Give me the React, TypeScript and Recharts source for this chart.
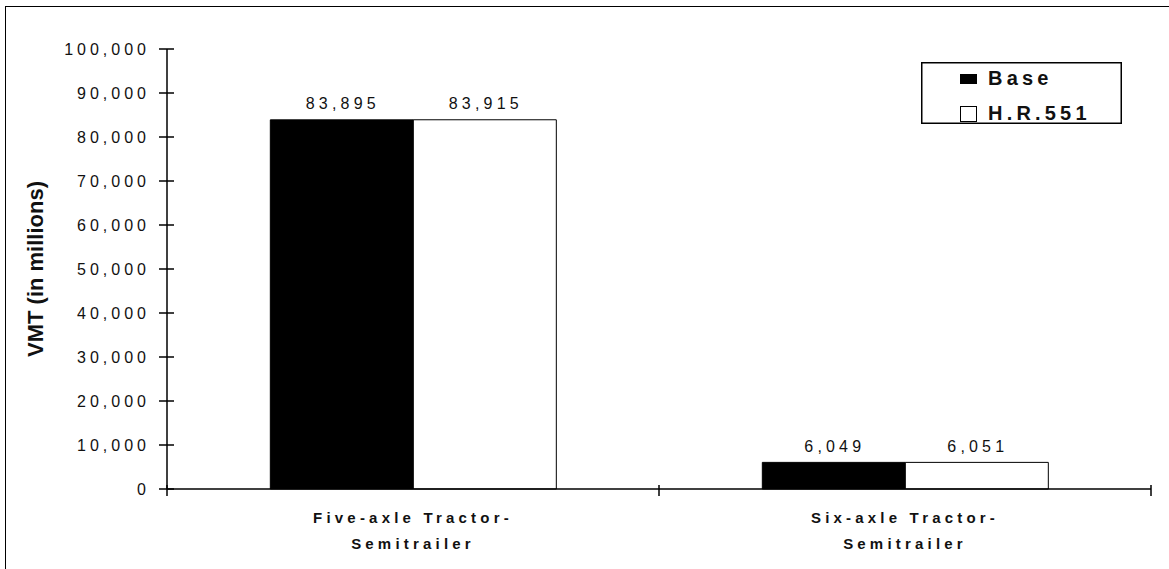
import React from "react";
import { BarChart, Bar, XAxis, YAxis, LabelList, Legend } from "recharts";

// Vehicle miles travelled by combination-truck configuration
const categories = ["Five-axle Tractor-\nSemitrailer", "Six-axle Tractor-\nSemitrailer"];
const baseValues = [83895, 6049];
const hr551Values = [83915, 6051];
const seriesNames = ["Base", "H.R.551"];
const yTicks = [0, 10000, 20000, 30000, 40000, 50000, 60000, 70000, 80000, 90000, 100000];
const yAxisTitle = "VMT (in millions)";

const data = categories.map((name, i) => ({
  name,
  base: baseValues[i],
  hr551: hr551Values[i],
}));

const FONT = '"Liberation Sans", Arial, Helvetica, sans-serif';
const INK = "#111";
const fmt = (v: number) => Number(v).toLocaleString("en-US");

function YTick(props: any) {
  const { x, y, payload } = props;
  return (
    <g>
      <line x1={x - 8} x2={x + 7} y1={y} y2={y} stroke="#000" strokeWidth={1.5} />
      <text
        x={x - 17}
        y={y}
        textAnchor="end"
        dominantBaseline="central"
        fontFamily={FONT}
        fontSize={16}
        letterSpacing={4}
        fill={INK}
      >
        {fmt(payload.value)}
      </text>
    </g>
  );
}

function XTick(props: any) {
  const { x, y, payload, index, visibleTicksCount, width } = props;
  const lines = String(payload.value).split("\n");
  const half = Number(width) / Number(visibleTicksCount) / 2;
  const showEdges = Number.isFinite(half);
  return (
    <g>
      {showEdges && (
        <line x1={x - half} x2={x - half} y1={y - 4} y2={y + 7} stroke="#000" strokeWidth={1.5} />
      )}
      {showEdges && index === visibleTicksCount - 1 && (
        <line x1={x + half} x2={x + half} y1={y - 4} y2={y + 7} stroke="#000" strokeWidth={1.5} />
      )}
      <text
        textAnchor="middle"
        fontFamily={FONT}
        fontSize={15}
        fontWeight="bold"
        letterSpacing={4.2}
        fill={INK}
      >
        {lines.map((line, i) => (
          <tspan key={i} x={x} y={y + 28 + i * 26} dominantBaseline="central">
            {line}
          </tspan>
        ))}
      </text>
    </g>
  );
}

function YTitle(props: any) {
  const vb = props.viewBox || {};
  const cx = (vb.x || 0) + 35;
  const cy = (vb.y || 0) + (vb.height || 0) / 2;
  return (
    <text
      x={cx}
      y={cy}
      transform={`rotate(-90 ${cx} ${cy})`}
      textAnchor="middle"
      dominantBaseline="central"
      fontFamily={FONT}
      fontSize={22}
      fontWeight="bold"
      fill={INK}
    >
      {yAxisTitle}
    </text>
  );
}

function ValueLabel(props: any) {
  const { x, y, width, value } = props;
  return (
    <text
      x={Number(x) + Number(width) / 2 + 1}
      y={Number(y) - 16}
      textAnchor="middle"
      dominantBaseline="central"
      fontFamily={FONT}
      fontSize={16}
      letterSpacing={4.2}
      fill={INK}
    >
      {fmt(value)}
    </text>
  );
}

function LegendBox() {
  const textProps = {
    fontFamily: FONT,
    fontSize: 20,
    fontWeight: "bold" as const,
    letterSpacing: 4.2,
    fill: INK,
    dominantBaseline: "central" as const,
  };
  return (
    <svg width={201} height={62} style={{ display: "block" }}>
      <rect x={0.75} y={0.75} width={199.5} height={60.5} fill="#fff" stroke="#000" strokeWidth={1.5} />
      <rect x={39.5} y={12.5} width={16} height={9} fill="#000" stroke="#000" strokeWidth={1} />
      <text x={67} y={16} {...textProps}>
        {seriesNames[0]}
      </text>
      <rect x={39.5} y={44.5} width={16} height={15} fill="#fff" stroke="#000" strokeWidth={1} />
      <text x={67} y={51} {...textProps}>
        {seriesNames[1]}
      </text>
    </svg>
  );
}

export default function App() {
  return (
    <div
      style={{
        position: "fixed",
        left: 0,
        top: 0,
        width: 1169,
        height: 569,
        overflow: "hidden",
        background: "#fff",
      }}
    >
      <div
        style={{
          position: "absolute",
          left: 5,
          top: 6,
          width: 1300,
          height: 700,
          borderTop: "1.5px solid #000",
          borderLeft: "1.5px solid #000",
        }}
      />
      <div style={{ position: "absolute", left: 0, top: 0 }}>
        <BarChart
          width={1169}
          height={569}
          data={data}
          margin={{ top: 49, right: 18, bottom: 0, left: 0 }}
          barCategoryGap="21%"
          barGap={0}
        >
          <XAxis
            xAxisId="frameTop"
            orientation="top"
            height={0}
            tick={false}
            tickLine={false}
            axisLine={{ stroke: "#8a8a8a", strokeWidth: 2 }}
          />
          <YAxis
            yAxisId="frameRight"
            orientation="right"
            width={0}
            tick={false}
            tickLine={false}
            axisLine={{ stroke: "#8a8a8a", strokeWidth: 2 }}
          />
          <XAxis
            dataKey="name"
            height={80}
            interval={0}
            tickLine={false}
            tickSize={0}
            tickMargin={0}
            tick={<XTick />}
            axisLine={{ stroke: "#000", strokeWidth: 1.5 }}
          />
          <YAxis
            width={167}
            domain={[0, 100000]}
            ticks={yTicks}
            interval={0}
            tickLine={false}
            tickSize={0}
            tickMargin={0}
            tick={<YTick />}
            axisLine={{ stroke: "#000", strokeWidth: 1.5 }}
            label={(p: any) => <YTitle {...p} />}
          />
          <Legend
            verticalAlign="middle"
            align="center"
            layout="horizontal"
            content={() => <LegendBox />}
            wrapperStyle={{ left: 921, top: 62, width: 201, height: 62 }}
          />
          <Bar dataKey="base" name={seriesNames[0]} fill="#000" stroke="#000" strokeWidth={1} isAnimationActive={false}>
            <LabelList dataKey="base" content={<ValueLabel />} />
          </Bar>
          <Bar dataKey="hr551" name={seriesNames[1]} fill="#fff" stroke="#000" strokeWidth={1} isAnimationActive={false}>
            <LabelList dataKey="hr551" content={<ValueLabel />} />
          </Bar>
        </BarChart>
      </div>
    </div>
  );
}
